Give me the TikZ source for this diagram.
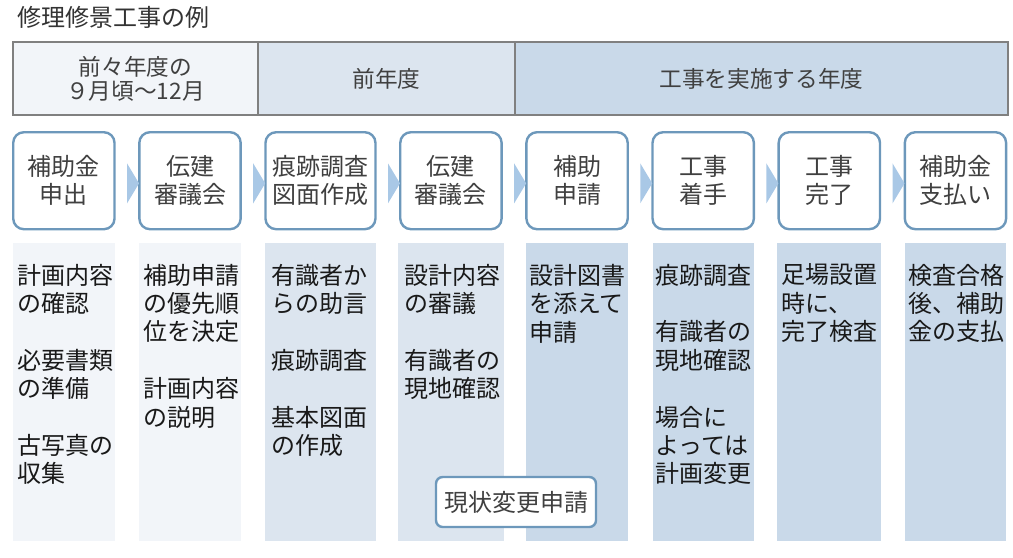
\documentclass[tikz,border=0pt]{standalone}
\usepackage{fontspec}
\setmainfont{Noto Sans CJK JP}
\usepackage{xcolor}
\usepackage{tikz}
\usetikzlibrary{positioning}

\definecolor{hdrA}{RGB}{242,245,249}
\definecolor{hdrB}{RGB}{220,229,239}
\definecolor{hdrC}{RGB}{201,217,233}
\definecolor{hdrline}{RGB}{128,128,128}
\definecolor{stepline}{RGB}{109,152,187}
\definecolor{chevfill}{RGB}{169,200,230}
\definecolor{txtgray}{RGB}{64,64,64}

\begin{document}
\begin{tikzpicture}[
    x=0.75pt, y=-0.75pt,
    node distance=16.8pt,
    hdr/.style={draw=hdrline, line width=0.9pt, rectangle, minimum height=54.75pt, outer sep=0pt, align=center, text=txtgray, font=\fontsize{17pt}{18pt}\selectfont},
    stepbox/.style={draw=stepline, line width=1.8pt, rectangle, rounded corners=8pt, fill=white, minimum width=76pt, minimum height=72.75pt, align=center, text=txtgray, font=\fontsize{18pt}{21pt}\selectfont},
    col/.style={fill=#1, rectangle, inner sep=0pt, minimum width=76pt, minimum height=223.5pt},
    coltext/.style={anchor=north west, align=left, inner xsep=3pt, inner ysep=16pt, text=black!90, font=\fontsize{18pt}{21.3pt}\selectfont},
    chev/.style={fill=chevfill}
]
    \useasboundingbox (0,0) rectangle (1013,557);

    % Title
    \node[anchor=west, inner sep=0pt, text=txtgray!80!black, font=\fontsize{18pt}{20pt}\selectfont] (title) at (17,17) {修理修景工事の例};

    % Year header
    \node[hdr, fill=hdrA, minimum width=183.75pt, anchor=north west] (yr1) at (13,42) {前々年度の\\９月頃〜12月};
    \node[hdr, fill=hdrB, minimum width=192.75pt, right=0pt of yr1] (yr2) {前年度};
    \node[hdr, fill=hdrC, minimum width=369.75pt, right=0pt of yr2] (yr3) {工事を実施する年度};

    % Steps
    \node[stepbox, anchor=north west] (s1) at (12,131) {補助金\\申出};
    \node[stepbox, right=of s1] (s2) {伝建\\審議会};
    \node[stepbox, right=of s2, minimum width=82.5pt] (s3) {痕跡調査\\図面作成};
    \node[stepbox, right=of s3] (s4) {伝建\\審議会};
    \node[stepbox, right=of s4] (s5) {補助\\申請};
    \node[stepbox, right=of s5] (s6) {工事\\着手};
    \node[stepbox, right=of s6] (s7) {工事\\完了};
    \node[stepbox, right=of s7] (s8) {補助金\\支払い};

    % Chevrons between steps
    \fill[chev] (s1.east) ++(8.5pt,13pt) -- ++(0,-30pt) -- ++(9pt,15pt) -- cycle;
    \fill[chev] (s2.east) ++(8.5pt,13pt) -- ++(0,-30pt) -- ++(9pt,15pt) -- cycle;
    \fill[chev] (s3.east) ++(8.5pt,13pt) -- ++(0,-30pt) -- ++(9pt,15pt) -- cycle;
    \fill[chev] (s4.east) ++(8.5pt,13pt) -- ++(0,-30pt) -- ++(9pt,15pt) -- cycle;
    \fill[chev] (s5.east) ++(8.5pt,13pt) -- ++(0,-30pt) -- ++(9pt,15pt) -- cycle;
    \fill[chev] (s6.east) ++(8.5pt,13pt) -- ++(0,-30pt) -- ++(9pt,15pt) -- cycle;
    \fill[chev] (s7.east) ++(8.5pt,13pt) -- ++(0,-30pt) -- ++(9pt,15pt) -- cycle;

    % Columns
    \node[col=hdrA, below=9pt of s1] (c1) {};
    \node[col=hdrA, below=9pt of s2] (c2) {};
    \node[col=hdrB, below=9pt of s3, minimum width=83pt] (c3) {};
    \node[col=hdrB, below=9pt of s4, minimum width=79pt] (c4) {};
    \node[col=hdrC, below=9pt of s5] (c5) {};
    \node[col=hdrC, below=9pt of s6] (c6) {};
    \node[col=hdrC, below=9pt of s7, minimum width=78pt] (c7) {};
    \node[col=hdrC, below=9pt of s8] (c8) {};

    % Column texts
    \node[coltext] (t1) at (c1.north west) {計画内容\\の確認\\[21.3pt]必要書類\\の準備\\[21.3pt]古写真の\\収集};
    \node[coltext] (t2) at (c2.north west) {補助申請\\の優先順\\位を決定\\[21.3pt]計画内容\\の説明};
    \node[coltext, inner xsep=5pt] (t3) at (c3.north west) {有識者か\\らの助言\\[21.3pt]痕跡調査\\[21.3pt]基本図面\\の作成};
    \node[coltext, inner xsep=5pt] (t4) at (c4.north west) {設計内容\\の審議\\[21.3pt]有識者の\\現地確認};
    \node[coltext, inner xsep=2pt] (t5) at (c5.north west) {設計図書\\を添えて\\申請};
    \node[coltext, inner xsep=2pt] (t6) at (c6.north west) {痕跡調査\\[21.3pt]有識者の\\現地確認\\[21.3pt]場合に\\よっては\\計画変更};
    \node[coltext] (t7) at (c7.north west) {足場設置\\時に、\\完了検査};
    \node[coltext] (t8) at (c8.north west) {検査合格\\後、補助\\金の支払};

    % Change application
    \node[stepbox, minimum width=120pt, minimum height=37.5pt, rounded corners=5pt, font=\fontsize{18pt}{20pt}\selectfont] (chg) at (516,502) {現状変更申請};

\end{tikzpicture}
\end{document}
